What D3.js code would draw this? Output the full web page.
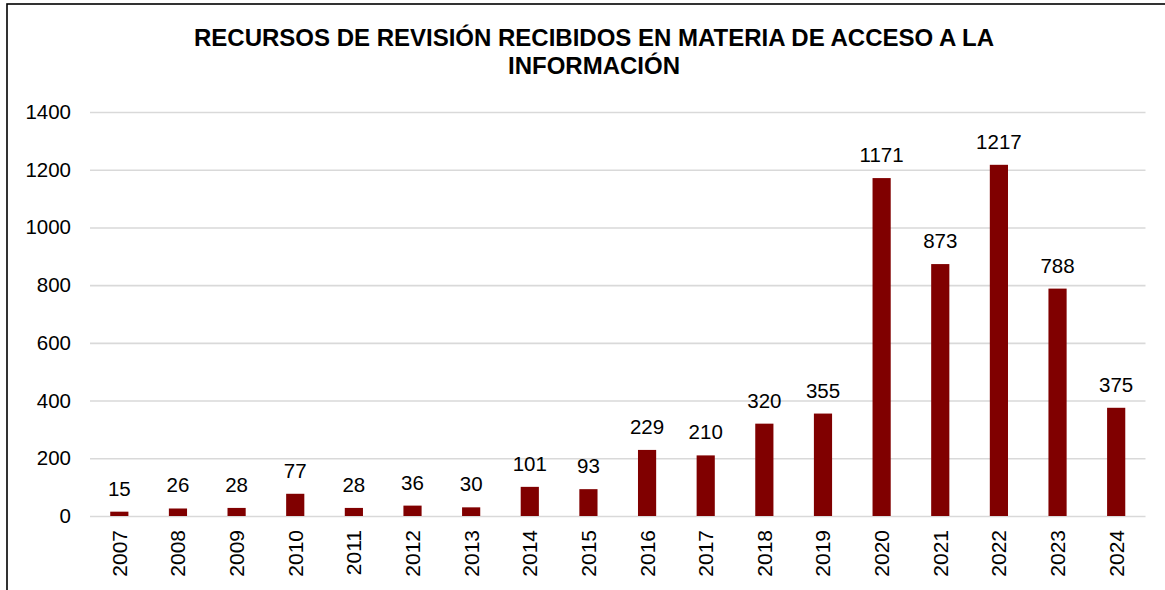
<!DOCTYPE html>
<html><head><meta charset="utf-8">
<script src="https://cdn.jsdelivr.net/npm/d3@7"></script>
<style>html,body{margin:0;padding:0;background:#fff;}svg{display:block;}</style>
</head><body>
<svg id="chart" width="1165" height="590"></svg>
<script>
const titleLines = ["RECURSOS DE REVISIÓN RECIBIDOS EN MATERIA DE ACCESO A LA", "INFORMACIÓN"];
const years = ["2007","2008","2009","2010","2011","2012","2013","2014","2015","2016","2017","2018","2019","2020","2021","2022","2023","2024"];
const values = [15,26,28,77,28,36,30,101,93,229,210,320,355,1171,873,1217,788,375];
const yTicks = [0,200,400,600,800,1000,1200,1400];

const svg = d3.select("#chart");
const font = "'Liberation Sans', Arial, sans-serif";
const m = {left: 90, right: 1145.5, top: 112, bottom: 516};

svg.append("rect").attr("x",7).attr("y",4).attr("width",1200).attr("height",700)
  .attr("fill","#fff").attr("stroke","#000").attr("stroke-width",1.6);

svg.append("g").selectAll("text").data(titleLines).join("text")
  .attr("x",594).attr("y",(d,i)=>46+i*27.5)
  .attr("text-anchor","middle").attr("font-family",font).attr("font-weight","bold")
  .attr("font-size",24).attr("fill","#000").text(d=>d);

const x = d3.scaleBand().domain(years).range([m.left, m.right]).paddingInner(0.69).paddingOuter(0.345);
const y = d3.scaleLinear().domain([0,1400]).range([m.bottom, m.top]);

const yAxis = svg.append("g").attr("transform",`translate(${m.left},0)`)
  .call(d3.axisLeft(y).tickValues(yTicks).tickSize(-(m.right-m.left)).tickPadding(19).tickFormat(d3.format("d")));
yAxis.select(".domain").remove();
yAxis.selectAll(".tick line").attr("stroke","#d9d9d9").attr("stroke-width",1.6);
yAxis.selectAll(".tick text").attr("font-family",font).attr("font-size",20.5).attr("fill","#000");

svg.append("g").selectAll("rect").data(values).join("rect")
  .attr("x",(d,i)=>x(years[i])).attr("width",x.bandwidth())
  .attr("y",d=>y(d)).attr("height",d=>y(0)-y(d)).attr("fill","#800000");

svg.append("g").selectAll("text").data(values).join("text")
  .attr("x",(d,i)=>x(years[i])+x.bandwidth()/2).attr("y",d=>y(d)-16)
  .attr("text-anchor","middle").attr("font-family",font).attr("font-size",20.5).attr("fill","#000")
  .text(d=>d);

const xAxis = svg.append("g").attr("transform",`translate(0,${m.bottom})`)
  .call(d3.axisBottom(x).tickSize(0).tickPadding(0));
xAxis.select(".domain").remove();
xAxis.selectAll(".tick text")
  .attr("font-family",font).attr("font-size",21).attr("fill","#000")
  .attr("text-anchor","end").attr("dy",null).attr("y",0)
  .attr("transform","translate(7.5,14) rotate(-90)");
</script>
</body></html>
